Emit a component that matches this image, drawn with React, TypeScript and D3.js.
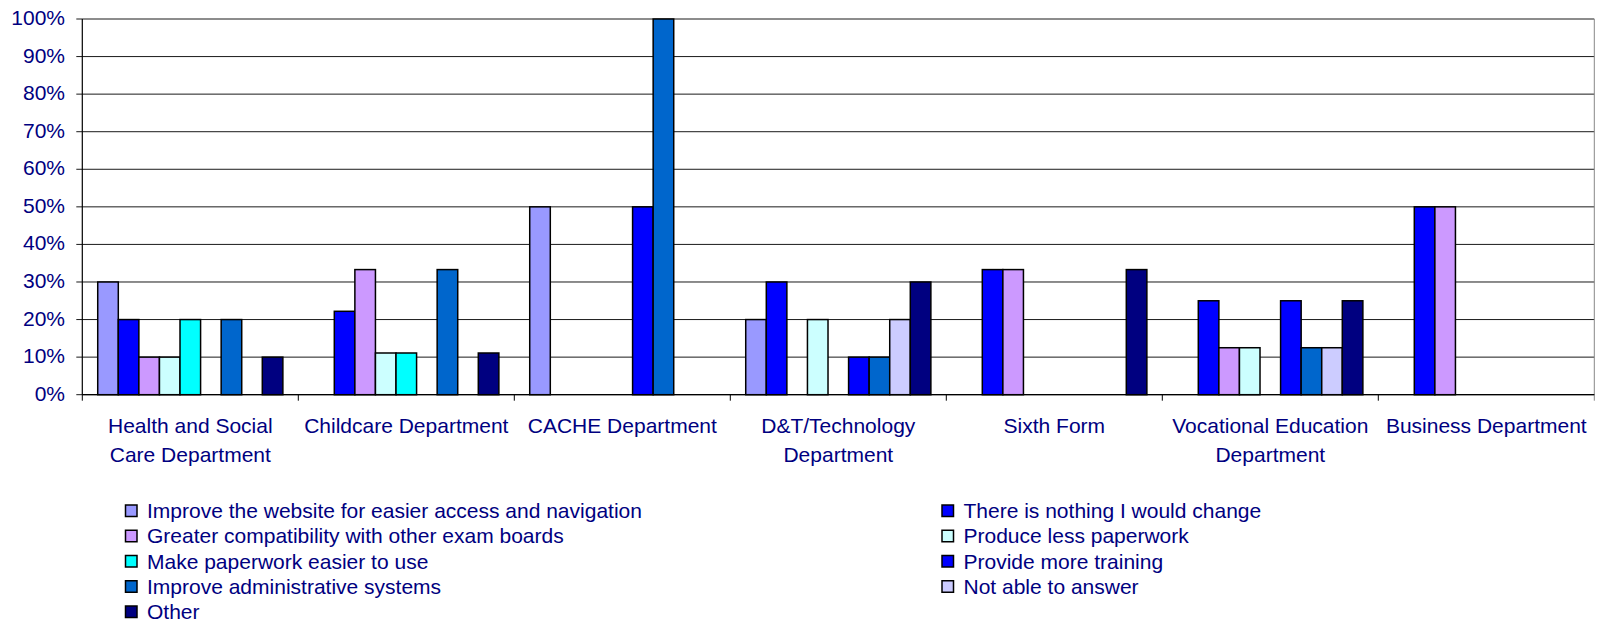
import React from "react";
import * as d3 from "d3";

const categories = [
  "Health and Social Care Department",
  "Childcare Department",
  "CACHE Department",
  "D&T/Technology Department",
  "Sixth Form",
  "Vocational Education Department",
  "Business Department",
];
const categoryLines = [
  ["Health and Social", "Care Department"],
  ["Childcare Department"],
  ["CACHE Department"],
  ["D&T/Technology", "Department"],
  ["Sixth Form"],
  ["Vocational Education", "Department"],
  ["Business Department"],
];

const seriesNames = [
  "Improve the website for easier access and navigation",
  "There is nothing I would change",
  "Greater compatibility with other exam boards",
  "Produce less paperwork",
  "Make paperwork easier to use",
  "Provide more training",
  "Improve administrative systems",
  "Not able to answer",
  "Other",
];
const seriesColors = [
  "#9999FF", "#0000FF", "#CC99FF", "#CCFFFF", "#00FFFF",
  "#0000FF", "#0066CC", "#CCCCFF", "#000080",
];

// values per series, in category order (percent)
const improveWebsite = [30, 0, 50, 20, 0, 0, 0];
const nothingToChange = [20, 22.2, 0, 30, 33.3, 25, 50];
const greaterCompat = [10, 33.3, 0, 0, 33.3, 12.5, 50];
const lessPaperwork = [10, 11.1, 0, 20, 0, 12.5, 0];
const easierPaperwork = [20, 11.1, 0, 0, 0, 0, 0];
const moreTraining = [0, 0, 50, 10, 0, 25, 0];
const adminSystems = [20, 33.3, 100, 10, 0, 12.5, 0];
const notAble = [0, 0, 0, 20, 0, 12.5, 0];
const other = [10, 11.1, 0, 30, 33.3, 25, 0];

const seriesValues = [
  improveWebsite, nothingToChange, greaterCompat, lessPaperwork,
  easierPaperwork, moreTraining, adminSystems, notAble, other,
];

const yTicks = [0, 10, 20, 30, 40, 50, 60, 70, 80, 90, 100];

const W = 1603, H = 626;
const left = 82.3, right = 1594.3, top = 19, bottom = 394.7;
const textColor = "#000080";
const font = "'Liberation Sans', Arial, sans-serif";
const fs = 21;

export default function App() {
  const x0 = d3.scaleBand<string>().domain(categories).range([left, right]).padding(0);
  const sIdx = seriesNames.map((_, i) => String(i));
  const x1 = d3.scaleBand<string>().domain(sIdx).range([0, x0.bandwidth()]).paddingInner(0).paddingOuter(0.75);
  const y = d3.scaleLinear().domain([0, 100]).range([bottom, top]);

  return (
    <svg width={W} height={H} style={{ position: "absolute", left: 0, top: 0 }} fontFamily={font}>
      <rect width={W} height={H} fill="#fff" />
      {/* gridlines */}
      {yTicks.map((t) => (
        <line key={"g" + t} x1={left - 6} x2={right} y1={y(t)} y2={y(t)} stroke="#1a1a1a" strokeWidth={1} />
      ))}
      {yTicks.map((t) => (
        <text key={"yt" + t} x={65} y={y(t) + 6} textAnchor="end" fontSize={fs} fill={textColor}>
          {t + "%"}
        </text>
      ))}
      {/* axes */}
      <line x1={left} x2={left} y1={top} y2={bottom} stroke="#000" strokeWidth={1.2} />
      <line x1={right} x2={right} y1={top} y2={bottom + 6} stroke="#888" strokeWidth={1} />
      <line x1={left} x2={right} y1={bottom} y2={bottom} stroke="#000" strokeWidth={1.2} />
      {categories.map((c, i) => (
        <line key={"ct" + i} x1={x0(c)!} x2={x0(c)!} y1={bottom} y2={bottom + 6} stroke="#000" strokeWidth={1} />
      ))}
      {/* bars */}
      {categories.map((c, ci) => (
        <g key={"cat" + ci} transform={`translate(${x0(c)},0)`}>
          {seriesValues.map((vals, si) => {
            const v = vals[ci];
            if (!v) return null;
            return (
              <rect
                key={si}
                x={x1(String(si))!}
                y={y(v)}
                width={x1.bandwidth()}
                height={y(0) - y(v)}
                fill={seriesColors[si]}
                stroke="#000"
                strokeWidth={1.5}
              />
            );
          })}
        </g>
      ))}
      {/* category labels */}
      {categories.map((c, i) => (
        <text key={"cl" + i} x={x0(c)! + x0.bandwidth() / 2} textAnchor="middle" fontSize={fs} fill={textColor}>
          {categoryLines[i].map((ln, li) => (
            <tspan key={li} x={x0(c)! + x0.bandwidth() / 2} y={433.3 + li * 28.4}>
              {ln}
            </tspan>
          ))}
        </text>
      ))}
      {/* legend */}
      {seriesNames.map((name, i) => {
        const col = i % 2;
        const row = Math.floor(i / 2);
        const sx = col === 0 ? 125.5 : 942;
        const tx = col === 0 ? 147 : 963.5;
        const base = 518 + row * 25.25;
        return (
          <g key={"lg" + i}>
            <rect x={sx} y={base - 13} width={11.5} height={11.5} fill={seriesColors[i]} stroke="#000" strokeWidth={1.5} />
            <text x={tx} y={base} fontSize={fs} fill={textColor}>
              {name}
            </text>
          </g>
        );
      })}
    </svg>
  );
}
